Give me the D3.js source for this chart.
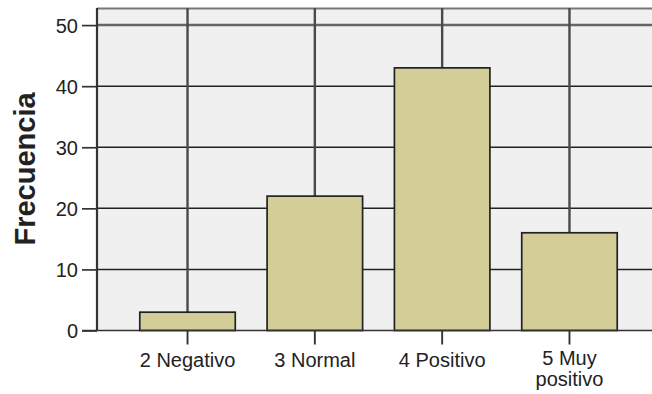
<!DOCTYPE html>
<html>
<head>
<meta charset="utf-8">
<script src="https://cdn.jsdelivr.net/npm/d3@7"></script>
<style>
  html, body { margin: 0; padding: 0; background: #fff; }
  svg { display: block; }
  text { font-family: "Liberation Sans", Arial, sans-serif; fill: #222; }
</style>
</head>
<body>
<svg id="chart" width="652" height="394"></svg>
<script>
const categories = ["2 Negativo", "3 Normal", "4 Positivo", "5 Muy positivo"];
const categoryLines = [["2 Negativo"], ["3 Normal"], ["4 Positivo"], ["5 Muy", "positivo"]];
const frequencies = [3, 22, 43, 16];
const yTicks = [0, 10, 20, 30, 40, 50];
const yMax = 52.8;
const yLabel = "Frecuencia";

(function () {
const svg = d3.select("#chart");
const pLeft = 97, pRight = 660, pTop = 8, pBottom = 330.5;

const x = d3.scaleBand().domain(categories).range([pLeft, pRight])
  .paddingInner(0.25).paddingOuter(0.336);
const y = d3.scaleLinear().domain([0, yMax]).range([pBottom, pTop]);

// plot background
svg.append("rect").attr("x", pLeft).attr("y", pTop)
  .attr("width", pRight - pLeft).attr("height", pBottom - pTop)
  .attr("fill", "#f0f0f0");

// top border
svg.append("line").attr("x1", pLeft).attr("x2", pRight).attr("y1", pTop + 0.5).attr("y2", pTop + 0.5)
  .attr("stroke", "#777").attr("stroke-width", 2);

// horizontal grid lines
svg.append("g").selectAll("line").data(yTicks.filter(d => d > 0)).join("line")
  .attr("x1", pLeft).attr("x2", pRight)
  .attr("y1", d => y(d)).attr("y2", d => y(d))
  .attr("stroke", d => d === 50 ? "#666" : "#222")
  .attr("stroke-width", d => d === 50 ? 2.5 : 1.5);

// vertical grid lines at category centres
svg.append("g").selectAll("line").data(categories).join("line")
  .attr("x1", d => x(d) + x.bandwidth() / 2).attr("x2", d => x(d) + x.bandwidth() / 2)
  .attr("y1", pTop).attr("y2", pBottom)
  .attr("stroke", "#4a4a4a").attr("stroke-width", 2.4);

// bars
svg.append("g").selectAll("rect").data(frequencies).join("rect")
  .attr("x", (d, i) => x(categories[i]))
  .attr("y", d => y(d))
  .attr("width", x.bandwidth())
  .attr("height", d => y(0) - y(d))
  .attr("fill", "#d3ce97")
  .attr("stroke", "#222")
  .attr("stroke-width", 1.7);

// y axis
const yAxis = svg.append("g").attr("transform", `translate(${pLeft},0)`)
  .call(d3.axisLeft(y).tickValues(yTicks).tickSize(15).tickPadding(4).tickFormat(d3.format("d")));
yAxis.select(".domain").attr("stroke", "#333").attr("stroke-width", 2.2).attr("d", `M0,${pTop}V${pBottom}`);
yAxis.selectAll(".tick line").attr("stroke", "#333").attr("stroke-width", 1.7);
yAxis.selectAll(".tick text").attr("font-size", 20).attr("fill", "#222")
  .attr("font-family", "Liberation Sans, Arial, sans-serif").attr("dy", "0.36em");

// x axis
const xAxis = svg.append("g").attr("transform", `translate(0,${pBottom})`)
  .call(d3.axisBottom(x).tickSize(14).tickFormat(""));
xAxis.select(".domain").attr("stroke", "#333").attr("stroke-width", 1.7).attr("d", `M${pLeft - 15},0H${pRight}`);
xAxis.selectAll(".tick line").attr("stroke", "#333").attr("stroke-width", 1.9);
xAxis.selectAll(".tick text").remove();

// x tick labels (multi-line)
const xl = svg.append("g");
categories.forEach((c, i) => {
  const cx = x(c) + x.bandwidth() / 2;
  const lines = categoryLines[i];
  const t = xl.append("text")
    .attr("x", cx)
    .attr("y", lines.length > 1 ? 365 : 367)
    .attr("text-anchor", "middle")
    .attr("font-size", 20);
  lines.forEach((ln, j) => {
    t.append("tspan").attr("x", cx)
      .attr("dy", j === 0 ? 0 : 21).text(ln);
  });
});

// y label
svg.append("text")
  .attr("transform", `translate(35,169) rotate(-90)`)
  .attr("text-anchor", "middle")
  .attr("font-size", 29)
  .attr("font-weight", "bold")
  .text(yLabel);
})();
</script>
</body>
</html>
